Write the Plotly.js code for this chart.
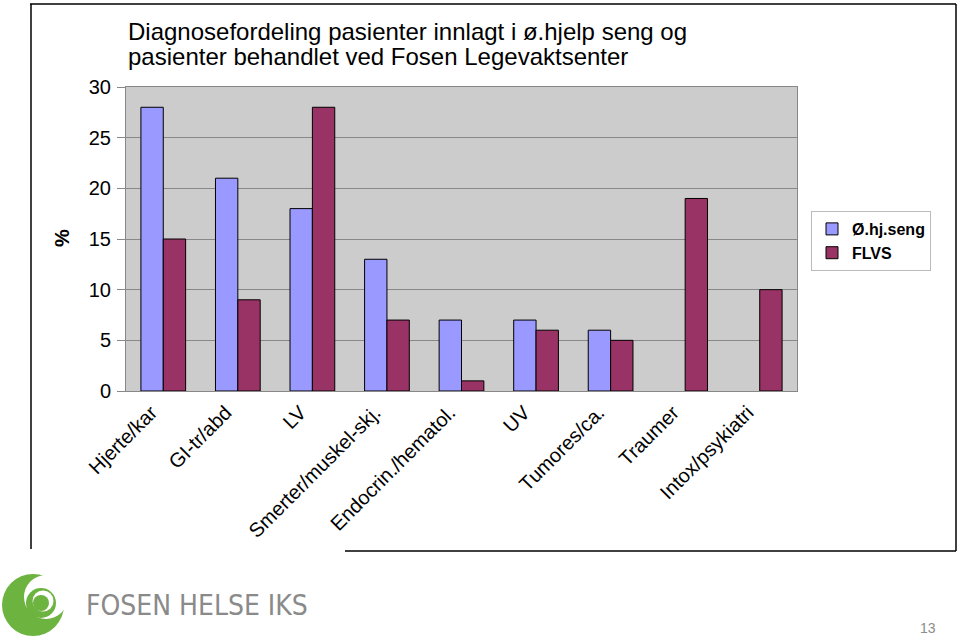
<!DOCTYPE html>
<html><head><meta charset="utf-8">
<script src="https://cdn.plot.ly/plotly-3.0.1.min.js"></script>
<style>body{margin:0;background:#fff}#c{width:959px;height:638px}</style>
</head><body><div id="c"></div>
<script>
const categories = ["Hjerte/kar","GI-tr/abd","LV","Smerter/muskel-skj.","Endocrin./hematol.","UV","Tumores/ca.","Traumer","Intox/psykiatri"];
const ohjSeng = [28,21,18,13,7,7,6,0,0];
const flvs = [15,9,28,7,1,6,5,19,10];
const yTicks = [0,5,10,15,20,25,30];
const seriesNames = ["Ø.hj.seng","FLVS"];
const titleLines = ["Diagnosefordeling pasienter innlagt i ø.hjelp seng og","pasienter behandlet ved Fosen Legevaktsenter"];

const L=126,R=797,T=87,B=391;
const px=v=>(v-L)/(R-L), py=v=>(B-v)/(B-T);
const FONT="Liberation Sans, Arial, sans-serif";

function circ(cx,cy,r,color){return {type:'circle',xref:'paper',yref:'paper',x0:px(cx-r),x1:px(cx+r),y0:py(cy+r),y1:py(cy-r),fillcolor:color,line:{width:0},layer:'above'};}
function line(x0,y0,x1,y1){return {type:'line',xref:'paper',yref:'paper',x0:px(x0),y0:py(y0),x1:px(x1),y1:py(y1),line:{color:'#000',width:1.5},layer:'above'};}

const green='#6cb33f';
const shapes=[
 line(30,4,956,4), line(31,4,31,549), line(956,4,956,551), line(345,551,956,551),
 circ(33,605,31,green), circ(46,597,22,'#fff'), circ(41,603,15,green), circ(43,601,10.5,'#fff'), circ(41,603,8,green)
];

const lw = v => v ? 1 : 0;
const data=[
 {type:'bar',name:seriesNames[0],x:categories,y:ohjSeng,marker:{color:'#9999ff',line:{color:'#000',width:ohjSeng.map(lw)}}},
 {type:'bar',name:seriesNames[1],x:categories,y:flvs,marker:{color:'#993366',line:{color:'#000',width:flvs.map(lw)}}}
];
const layout={
 width:959,height:638,margin:{l:L,r:959-R,t:T,b:638-B,pad:0},
 paper_bgcolor:'#fff',plot_bgcolor:'#cccccc',
 font:{family:FONT,color:'#000'},
 bargap:0.4,bargroupgap:0,barmode:'group',
 showlegend:true,
 legend:{x:px(811),y:py(211),xanchor:'left',yanchor:'top',bgcolor:'#fff',bordercolor:'#bbb',borderwidth:1,font:{size:16,family:FONT,weight:'bold'},itemwidth:30,tracegroupgap:0},
 xaxis:{type:'category',tickangle:-45,tickfont:{size:20},showline:true,linecolor:'#888',linewidth:1,mirror:true,ticks:'',showgrid:false,ticklabelshift:-12,ticklabelstandoff:1},
 yaxis:{range:[0,30],tickvals:yTicks,tickfont:{size:20},ticks:'outside',ticklen:8,tickcolor:'#888',showline:true,linecolor:'#888',mirror:true,gridcolor:'#888',gridwidth:1,zeroline:false,ticklabelstandoff:2},
 shapes:shapes,
 annotations:[
  {xref:'paper',yref:'paper',x:px(126),y:py(31),xanchor:'left',yanchor:'middle',showarrow:false,text:titleLines[0],font:{size:24,family:FONT}},
  {xref:'paper',yref:'paper',x:px(126),y:py(56),xanchor:'left',yanchor:'middle',showarrow:false,text:titleLines[1],font:{size:24,family:FONT}},
  {xref:'paper',yref:'paper',x:px(62),y:py(238),xanchor:'center',yanchor:'middle',textangle:-90,showarrow:false,text:'%',font:{size:20,family:FONT,weight:'bold'}},
  {xref:'paper',yref:'paper',x:px(84),y:py(605),xanchor:'left',yanchor:'middle',showarrow:false,text:'FOSEN HELSE IKS',font:{size:28,family:'DejaVu Sans Condensed, Liberation Sans Narrow, sans-serif',color:'#8a8a8a'}},
  {xref:'paper',yref:'paper',x:px(928),y:py(628),xanchor:'center',yanchor:'middle',showarrow:false,text:'13',font:{size:14,family:'Liberation Sans, sans-serif',color:'#8c8c8c'}}
 ]
};
Plotly.newPlot('c',data,layout,{displayModeBar:false,staticPlot:true});
</script></body></html>
